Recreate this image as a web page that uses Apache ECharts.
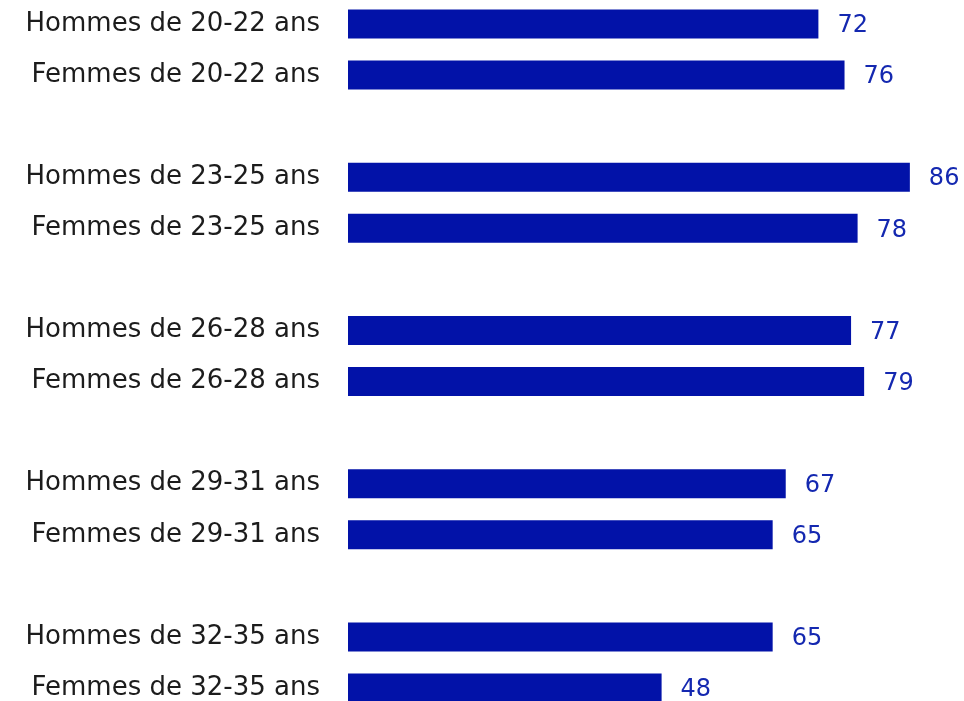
<!DOCTYPE html>
<html><head><meta charset="utf-8">
<script src="https://cdn.jsdelivr.net/npm/echarts@6/dist/echarts.min.js"></script>
<style>html,body{margin:0;padding:0;background:#fff}#c{width:964px;height:701px}</style>
</head><body><div id="c"></div>
<script>
var ageGroups = ['20-22', '23-25', '26-28', '29-31', '32-35'];
var hommes = [72, 86, 77, 67, 65];
var femmes = [76, 78, 79, 65, 48];

var categories = [];
var values = [];
ageGroups.forEach(function (g, i) {
  if (i > 0) { categories.push(' '.repeat(i)); values.push('-'); }
  categories.push('Hommes de ' + g + ' ans'); values.push(hommes[i]);
  categories.push('Femmes de ' + g + ' ans'); values.push(femmes[i]);
});

var chart = echarts.init(document.getElementById('c'));
chart.setOption({
  animation: false,
  grid: { left: 348, right: 28, top: 24, bottom: 13, containLabel: false },
  xAxis: { type: 'value', min: 0, max: 90, show: false },
  yAxis: {
    type: 'category', inverse: true, data: categories, boundaryGap: false,
    axisLine: { show: false }, axisTick: { show: false }, splitLine: { show: false },
    axisLabel: { margin: 28, color: '#1c1c1c', fontSize: 26, fontFamily: 'DejaVu Sans', interval: 0 }
  },
  series: [{
    type: 'bar', data: values, barWidth: 29,
    itemStyle: { color: '#0212A8' },
    label: { show: true, position: 'right', distance: 19, offset: [0, 2], color: '#1428B0', fontSize: 24, fontFamily: 'DejaVu Sans' }
  }]
});
</script></body></html>
